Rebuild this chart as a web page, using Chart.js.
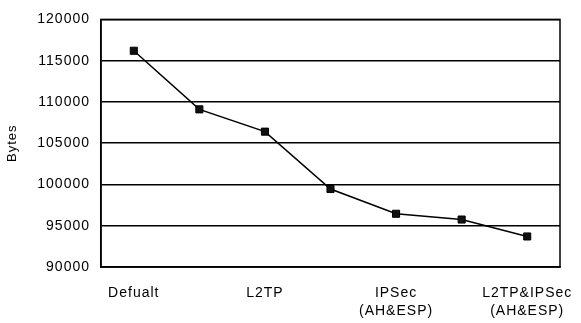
<!DOCTYPE html>
<html><head><meta charset="utf-8">
<script src="https://cdn.jsdelivr.net/npm/chart.js@4"></script>
<style>html,body{margin:0;padding:0;background:#fff}#w{width:581px;height:323px}</style>
</head><body><div id="w"><canvas id="c"></canvas></div>
<script>
const categories = ["Defualt", "", "L2TP", "", ["IPSec", "(AH&ESP)"], "", ["L2TP&IPSec", "(AH&ESP)"]];
const bytesValues = [116200, 109100, 106400, 99450, 96450, 95750, 93700];
const yTicks = [90000, 95000, 100000, 105000, 110000, 115000, 120000];

const frame = {
  id: 'frame',
  beforeDraw(chart) { chart.ctx.letterSpacing = '1px'; },
  afterDatasetsDraw(chart) {
    const {ctx, chartArea: a} = chart;
    ctx.save();
    ctx.strokeStyle = '#000';
    ctx.lineWidth = 1.5;
    ctx.strokeRect(a.left, a.top, a.right - a.left, a.bottom - a.top);
    ctx.restore();
  }
};

new Chart(document.getElementById('c'), {
  type: 'line',
  data: {
    labels: categories,
    datasets: [{
      data: bytesValues,
      borderColor: '#000',
      borderWidth: 1.5,
      backgroundColor: '#111',
      pointStyle: 'rect',
      pointRadius: 5,
      pointBorderColor: '#000',
      pointBorderWidth: 1,
      tension: 0
    }]
  },
  options: {
    responsive: true,
    maintainAspectRatio: false,
    animation: false,
    layout: { padding: { left: 0, right: 21, top: 6, bottom: 0 } },
    plugins: { legend: { display: false }, tooltip: { enabled: false } },
    scales: {
      x: {
        offset: true,
        grid: { display: false, drawTicks: false },
        border: { color: '#000', width: 1.5 },
        ticks: { color: '#000', font: { family: 'Liberation Sans', size: 14, lineHeight: 1.3 }, padding: 17, maxRotation: 0, autoSkip: false },
        afterFit(s) { s.height = 56; s.paddingRight = 0; s.paddingLeft = 0; }
      },
      y: {
        min: 90000, max: 120000,
        afterBuildTicks(s) { s.ticks = yTicks.map(v => ({ value: v })); },
        grid: { color: '#000', lineWidth: 1.5, drawTicks: false },
        border: { color: '#000', width: 1.5 },
        ticks: { color: '#000', font: { family: 'Liberation Sans', size: 14 }, padding: 11, callback: v => String(v) },
        title: { display: true, text: 'Bytes', color: '#000', font: { family: 'Liberation Sans', size: 13 }, padding: { top: 5, bottom: 0 } },
        afterFit(s) { s.width = 101; }
      }
    }
  },
  plugins: [frame]
});
</script></body></html>
